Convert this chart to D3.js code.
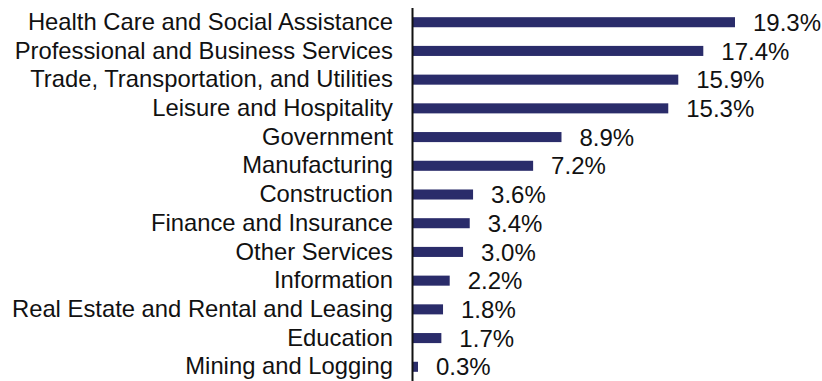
<!DOCTYPE html>
<html>
<head>
<meta charset="utf-8">
<script src="https://cdn.jsdelivr.net/npm/d3@7"></script>
<style>
  html, body { margin: 0; padding: 0; background: #fff; }
  svg { display: block; }
</style>
</head>
<body>
<svg id="chart" width="822" height="381"></svg>
<script>
// Share of employment by industry (%)
const industries = [
  "Health Care and Social Assistance",
  "Professional and Business Services",
  "Trade, Transportation, and Utilities",
  "Leisure and Hospitality",
  "Government",
  "Manufacturing",
  "Construction",
  "Finance and Insurance",
  "Other Services",
  "Information",
  "Real Estate and Rental and Leasing",
  "Education",
  "Mining and Logging"
];
const shares = [19.3, 17.4, 15.9, 15.3, 8.9, 7.2, 3.6, 3.4, 3.0, 2.2, 1.8, 1.7, 0.3];

const svg = d3.select("#chart");
const axisX = 413;
const font = "'Liberation Sans', Arial, sans-serif";

const x = d3.scaleLinear().domain([0, 19.3]).range([axisX, 735]);
const y = d3.scaleBand().domain(industries).range([8, 381]).paddingInner(0.65).paddingOuter(0.32);

const data = industries.map((name, i) => ({ name, value: shares[i] }));

// bars
svg.append("g").selectAll("rect")
  .data(data)
  .join("rect")
  .attr("x", x(0))
  .attr("y", d => y(d.name))
  .attr("width", d => x(d.value) - x(0))
  .attr("height", y.bandwidth())
  .attr("fill", "#2a2c6a");

// category axis
const yAxis = d3.axisLeft(y).tickSize(0).tickPadding(20);
const gAxis = svg.append("g")
  .attr("transform", `translate(${axisX},0)`)
  .call(yAxis)
  .attr("font-family", font)
  .attr("font-size", 23.8);
gAxis.select(".domain").remove();
gAxis.selectAll("text").attr("fill", "#111");

svg.append("line")
  .attr("x1", axisX - 0.5).attr("x2", axisX - 0.5)
  .attr("y1", 8).attr("y2", 381)
  .attr("stroke", "#111").attr("stroke-width", 2);

// value labels
svg.append("g")
  .attr("font-family", font)
  .attr("font-size", 24)
  .selectAll("text")
  .data(data)
  .join("text")
  .attr("x", d => x(d.value) + 18)
  .attr("y", d => y(d.name) + y.bandwidth() / 2)
  .attr("dy", "0.36em")
  .attr("fill", "#111")
  .text(d => d3.format(".1f")(d.value) + "%");
</script>
</body>
</html>
